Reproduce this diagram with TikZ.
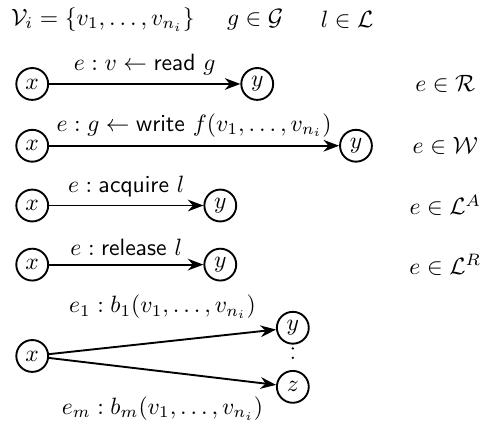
\documentclass[tikz,border=0pt]{standalone}
\usepackage{amsmath,amssymb}
\usetikzlibrary{arrows.meta}
\begin{document}
\begin{tikzpicture}[
vert/.style={circle,draw,thick,inner sep=0pt,minimum size=13.5pt},
trans/.style={thick,-{Stealth}},
vdotted/.style={line width=1.1pt,line cap=round,dash pattern=on 0pt off 4pt,
  shorten <=1.6pt,shorten >=1.6pt},
kind/.style={anchor=center}]

\useasboundingbox (0,0) rectangle (7.43,6.34);

% variables, globals and locks
\node[anchor=west] (vars) at (0.04,6.05) {$\mathcal{V}_i = \{v_1,\ldots,v_{n_i}\}$};
\node (glob) at (3.80,6.05) {$g \in \mathcal{G}$};
\node (lock) at (5.17,6.05) {$l \in \mathcal{L}$};

% read
\node[vert] (x1) at (0.48,5.09) {$x$};
\node[vert] (y1) at (3.83,5.09) {$y$};
\draw[trans] (x1) -- node[above] {$e : v \leftarrow \mathsf{read}\ g$} (y1);
\node[kind] (set1) at (6.63,5.09) {$e \in \mathcal{R}$};

% write
\node[vert] (x2) at (0.48,4.17) {$x$};
\node[vert] (y2) at (5.30,4.17) {$y$};
\draw[trans] (x2) -- node[above] {$e : g \leftarrow \mathsf{write}\ f(v_1,\ldots,v_{n_i})$} (y2);
\node[kind] (set2) at (6.63,4.17) {$e \in \mathcal{W}$};

% acquire
\node[vert] (x3) at (0.48,3.28) {$x$};
\node[vert] (y3) at (3.28,3.28) {$y$};
\draw[trans] (x3) -- node[above] {$e : \mathsf{acquire}\ l$} (y3);
\node[kind] (set3) at (6.63,3.28) {$e \in \mathcal{L}^A$};

% release
\node[vert] (x4) at (0.48,2.40) {$x$};
\node[vert] (y4) at (3.28,2.40) {$y$};
\draw[trans] (x4) -- node[above] {$e : \mathsf{release}\ l$} (y4);
\node[kind] (set4) at (6.63,2.40) {$e \in \mathcal{L}^R$};

% branch
\node[vert] (x5) at (0.48,1.04) {$x$};
\node[vert] (y5) at (4.36,1.46) {$y$};
\node[vert] (z5) at (4.36,0.58) {$z$};
\draw[vdotted] (y5) -- (z5);
\draw[trans] (x5) -- node[above=6pt] {$e_1 : b_1(v_1,\ldots,v_{n_i})$} (y5);
\draw[trans] (x5) -- node[below=7pt] {$e_m : b_m(v_1,\ldots,v_{n_i})$} (z5);

\end{tikzpicture}
\end{document}
